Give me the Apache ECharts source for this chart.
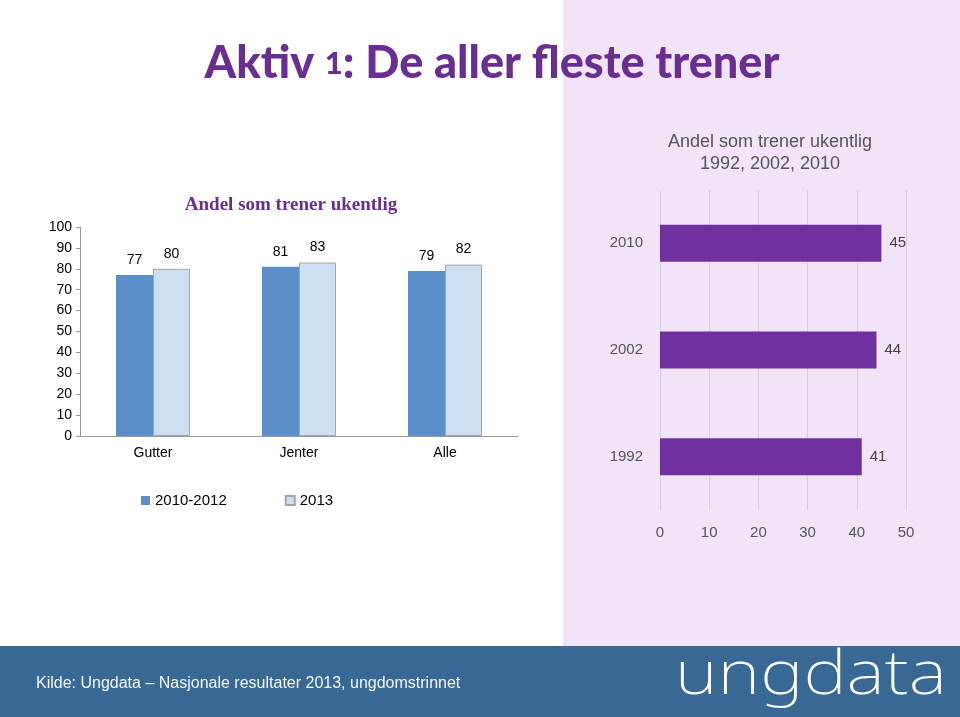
<!DOCTYPE html>
<html><head><meta charset="utf-8">
<script src="https://cdn.jsdelivr.net/npm/echarts@6/dist/echarts.min.js"></script>
<style>html,body{margin:0;padding:0;background:#fff}#c{width:960px;height:717px}</style>
</head><body><div id="c"></div>
<script>
var groups = ['Gutter', 'Jenter', 'Alle'];
var series1Name = '2010-2012';
var series2Name = '2013';
var series1 = [77, 81, 79];
var series2 = [80, 83, 82];
var years = ['1992', '2002', '2010'];
var yearValues = [41, 44, 45];

var chart = echarts.init(document.getElementById('c'), null, {renderer: 'canvas'});
var F = 'Liberation Sans, Arial, sans-serif';
chart.setOption({
  animation: false,
  graphic: [
    {type: 'rect', silent: true, z: -10, shape: {x: 563, y: 0, width: 397, height: 646}, style: {fill: '#f0e4f6'}},
    {type: 'rect', silent: true, z: -10, shape: {x: 0, y: 646, width: 960, height: 71}, style: {fill: '#386995'}},
    {type: 'text', left: 36, top: 676, style: {text: 'Kilde: Ungdata \u2013 Nasjonale resultater 2013, ungdomstrinnet', fill: '#f2f5f9', font: '16px ' + F}},
    {type: 'text', x: 675, y: 647, scaleX: 1.22, style: {text: 'ungdata', fill: '#fff', font: '200 60px "Noto Sans", sans-serif'}}
  ],
  title: [
    {text: '{a|Aktiv }{b|1}{a|: De aller fleste trener}', left: 487, textAlign: 'center', top: 36,
     textStyle: {rich: {a: {fontSize: 45, fontWeight: 900, color: '#6a2d91', fontFamily: 'Lato, sans-serif'},
                        b: {fontSize: 31, fontWeight: 900, color: '#6a2d91', fontFamily: 'Lato, sans-serif'}}}},
    {text: 'Andel som trener ukentlig', left: 286, textAlign: 'center', top: 191,
     textStyle: {fontSize: 19, fontWeight: 'bold', color: '#6a2d91', fontFamily: 'Liberation Serif, serif'}},
    {text: 'Andel som trener ukentlig\n1992, 2002, 2010', left: 765, textAlign: 'center', top: 126,
     textStyle: {fontSize: 18, fontWeight: 'normal', color: '#555', fontFamily: F, lineHeight: 22}}
  ],
  legend: {left: 136, top: 488, itemWidth: 9, itemHeight: 9, itemGap: 58, icon: 'rect',
    textStyle: {fontSize: 15, color: '#000', fontFamily: F}, data: [series1Name, series2Name]},
  grid: [
    {left: 80, right: 442, top: 227, bottom: 281},
    {left: 660, right: 54, top: 190, bottom: 207}
  ],
  xAxis: [
    {type: 'category', gridIndex: 0, data: groups,
     axisLine: {lineStyle: {color: '#999'}}, axisTick: {lineStyle: {color: '#999'}, length: 5},
     axisLabel: {color: '#000', fontSize: 14, fontFamily: F, margin: 10}},
    {type: 'value', gridIndex: 1, min: 0, max: 50, interval: 10,
     axisLine: {show: false}, axisTick: {show: false},
     splitLine: {lineStyle: {color: '#d6cce0'}},
     axisLabel: {color: '#555', fontSize: 15, fontFamily: F, margin: 15}}
  ],
  yAxis: [
    {type: 'value', gridIndex: 0, min: 0, max: 100, interval: 10,
     axisLine: {show: true, lineStyle: {color: '#999'}}, axisTick: {show: true, lineStyle: {color: '#999'}, length: 4},
     splitLine: {show: false},
     axisLabel: {color: '#000', fontSize: 14, fontFamily: F, margin: 8}},
    {type: 'category', gridIndex: 1, data: years,
     axisLine: {show: false}, axisTick: {show: false},
     axisLabel: {color: '#555', fontSize: 15, fontFamily: F, margin: 17}}
  ],
  series: [
    {name: series1Name, type: 'bar', xAxisIndex: 0, yAxisIndex: 0, data: series1, barWidth: 37, barGap: '0%',
     itemStyle: {color: '#5a8fca'},
     label: {show: true, position: 'top', distance: 8, color: '#000', fontSize: 14, fontFamily: F}},
    {name: series2Name, type: 'bar', xAxisIndex: 0, yAxisIndex: 0, data: series2, barWidth: 37,
     itemStyle: {color: '#cddff0', borderColor: '#9ca6b2', borderWidth: 1},
     label: {show: true, position: 'top', distance: 8, color: '#000', fontSize: 14, fontFamily: F}},
    {name: 'years', type: 'bar', xAxisIndex: 1, yAxisIndex: 1, data: yearValues, barWidth: 37,
     itemStyle: {color: '#7030a0'},
     label: {show: true, position: 'right', distance: 8, color: '#444', fontSize: 15, fontFamily: F}}
  ]
});
</script></body></html>
